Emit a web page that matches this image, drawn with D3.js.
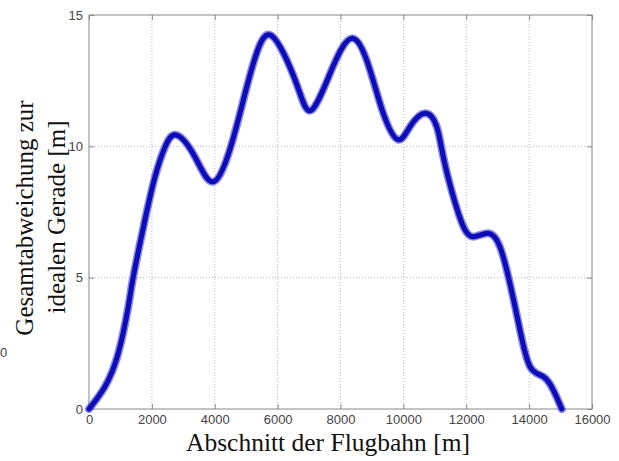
<!DOCTYPE html>
<html>
<head>
<meta charset="utf-8">
<script src="https://cdn.jsdelivr.net/npm/d3@7"></script>
<style>
  body { margin: 0; background: #fff; }
  svg { display: block; }
  .tick text { font-family: "Liberation Sans", Arial, sans-serif; font-size: 13px; fill: #444; }
  .title { font-family: "Liberation Serif", "Times New Roman", serif; fill: #111; }
</style>
</head>
<body>
<div id="chart"></div>
<script>
// Abschnitt der Flugbahn [m] vs Gesamtabweichung [m]
var distance = [0, 500, 930, 1250, 1410, 1780, 2100, 2420, 2790, 3370, 3950, 4500, 4910, 5330, 5760,
  6290, 6710, 7080, 7670, 8360, 8940, 9360, 9820, 10210, 10690, 11060, 11270, 11590, 11910,
  12230, 12700, 13070, 13390, 13710, 14030, 14450, 14770, 15040];
var deviation = [0, 0.84, 2.12, 3.9, 5.04, 7.2, 8.84, 9.98, 10.43, 9.6, 8.65, 9.95, 11.76, 13.54, 14.24,
  13.29, 12.02, 11.38, 12.78, 14.11, 12.9, 11.26, 10.26, 10.75, 11.26, 10.75, 9.6, 8.08, 6.94,
  6.56, 6.69, 6.18, 4.78, 3.0, 1.61, 1.23, 0.72, 0];
var xTicks = [0, 2000, 4000, 6000, 8000, 10000, 12000, 14000, 16000];
var yTicks = [0, 5, 10, 15];

var svgWidth = 619;
var svgHeight = 461;

var margin = { top: 15, right: 27, bottom: 52, left: 89 };
var width = 592 - margin.left;
var height = 409 - margin.top;

var svg = d3.select("#chart")
  .append("svg").attr("width", svgWidth).attr("height", svgHeight);

var chartGroup = svg.append("g")
  .attr("transform", `translate(${margin.left}, ${margin.top})`);

var x = d3.scaleLinear().domain([0, 16000]).range([0, width]);
var y = d3.scaleLinear().domain([0, 15]).range([height, 0]);

// dotted grid
chartGroup.append("g").selectAll("line")
  .data(xTicks.slice(1, -1))
  .enter().append("line")
  .attr("x1", d => x(d)).attr("x2", d => x(d))
  .attr("y1", 0).attr("y2", height)
  .attr("stroke", "#bbb").attr("stroke-dasharray", "1,2");

chartGroup.append("g").selectAll("line")
  .data(yTicks.slice(1, -1))
  .enter().append("line")
  .attr("y1", d => y(d)).attr("y2", d => y(d))
  .attr("x1", 0).attr("x2", width)
  .attr("stroke", "#bbb").attr("stroke-dasharray", "1,2");

// axes, ticks pointing inward like matlab
var bottomAxis = d3.axisBottom(x).tickValues(xTicks).tickFormat(d3.format("d")).tickSizeInner(-5).tickSizeOuter(0).tickPadding(6);
var leftAxis = d3.axisLeft(y).tickValues(yTicks).tickSizeInner(-5).tickSizeOuter(0).tickPadding(6);
var topAxis = d3.axisTop(x).tickValues(xTicks).tickFormat("").tickSizeInner(-5).tickSizeOuter(0);
var rightAxis = d3.axisRight(y).tickValues(yTicks).tickFormat("").tickSizeInner(-5).tickSizeOuter(0);

chartGroup.append("g").attr("transform", `translate(0, ${height})`).call(bottomAxis);
chartGroup.append("g").call(leftAxis);
chartGroup.append("g").call(topAxis);
chartGroup.append("g").attr("transform", `translate(${width}, 0)`).call(rightAxis);

chartGroup.selectAll(".domain").remove();
chartGroup.selectAll(".tick line").attr("stroke", "#888");

chartGroup.append("rect")
  .attr("width", width).attr("height", height)
  .attr("fill", "none").attr("stroke", "#888").attr("stroke-width", 1);

// data
var pts = distance.map((d, i) => [d, deviation[i]]);
var line = d3.line()
  .x(d => x(d[0]))
  .y(d => y(d[1]))
  .curve(d3.curveNatural);

chartGroup.append("path")
  .datum(pts)
  .attr("d", line)
  .attr("fill", "none")
  .attr("stroke", "#3a3ad0")
  .attr("stroke-opacity", 0.6)
  .attr("stroke-width", 8)
  .attr("stroke-linecap", "round");

chartGroup.append("path")
  .datum(pts)
  .attr("d", line)
  .attr("fill", "none")
  .attr("stroke", "#0c0cb8")
  .attr("stroke-width", 5)
  .attr("stroke-linecap", "round");

// labels
svg.append("text")
  .attr("class", "title")
  .attr("x", 328).attr("y", 451)
  .attr("text-anchor", "middle")
  .attr("font-size", 25.5)
  .text("Abschnitt der Flugbahn [m]");

var ylab = svg.append("g").attr("transform", "rotate(-90)");
ylab.append("text")
  .attr("class", "title")
  .attr("x", -218).attr("y", 33)
  .attr("text-anchor", "middle")
  .attr("font-size", 25)
  .text("Gesamtabweichung zur");
ylab.append("text")
  .attr("class", "title")
  .attr("x", -217).attr("y", 65)
  .attr("text-anchor", "middle")
  .attr("font-size", 25)
  .text("idealen Gerade [m]");

// stray tick label at the left edge
svg.append("text")
  .attr("x", 0).attr("y", 357)
  .attr("font-family", "Liberation Sans, Arial, sans-serif")
  .attr("font-size", 13).attr("fill", "#444")
  .text("0");
</script>
</body>
</html>
